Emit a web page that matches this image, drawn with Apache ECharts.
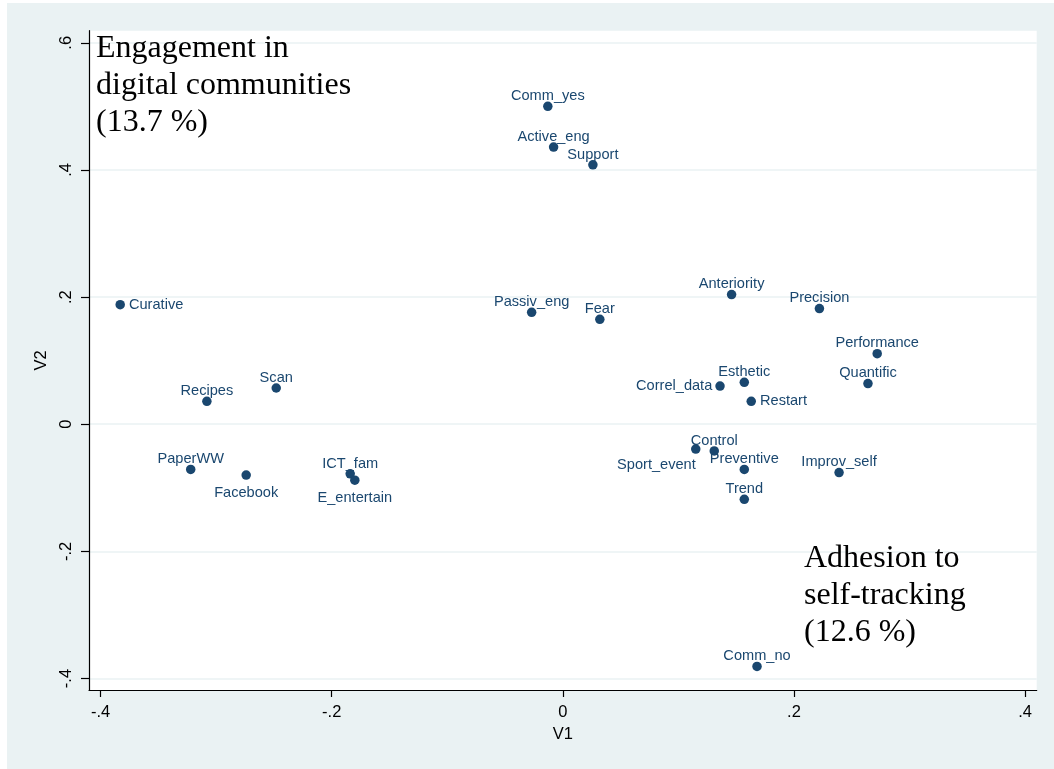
<!DOCTYPE html>
<html>
<head>
<meta charset="utf-8">
<script src="https://cdn.jsdelivr.net/npm/echarts@6/dist/echarts.min.js"></script>
<style>
html,body{margin:0;padding:0;background:#ffffff;}
#bg{position:absolute;left:7px;top:3px;width:1047px;height:766px;background:#eaf2f3;}
#chart{position:absolute;left:0;top:0;width:1054px;height:769px;}
</style>
</head>
<body>
<div id="bg"></div>
<div id="chart"></div>
<script>
// ---- Data ----
const names = ['Curative','Recipes','Scan','PaperWW','Facebook','ICT_fam','E_entertain',
  'Comm_yes','Active_eng','Support','Passiv_eng','Fear','Anteriority','Precision',
  'Performance','Quantific','Esthetic','Correl_data','Restart','Sport_event','Control',
  'Preventive','Improv_self','Trend','Comm_no'];
const v1 = [-0.383,-0.308,-0.248,-0.322,-0.274,-0.184,-0.180,
  -0.013,-0.008,0.026,-0.027,0.032,0.146,0.222,
  0.272,0.264,0.157,0.136,0.163,0.115,0.131,
  0.157,0.239,0.157,0.168];
const v2 = [0.188,0.036,0.057,-0.071,-0.080,-0.078,-0.088,
  0.500,0.436,0.408,0.176,0.165,0.204,0.182,
  0.111,0.064,0.066,0.060,0.036,-0.039,-0.042,
  -0.071,-0.076,-0.118,-0.381];
const xTicks = [-0.4,-0.2,0,0.2,0.4];
const yTicks = [-0.4,-0.2,0,0.2,0.4,0.6];
const annotationTop = ['Engagement in','digital communities','(13.7 %)'];
const annotationBottom = ['Adhesion to','self-tracking','(12.6 %)'];

// label placement (style only)
const labelStyle = {
  Curative:{position:'right',distance:4},
  Correl_data:{position:'left',distance:3},
  Restart:{position:'right',distance:4},
  Facebook:{position:'bottom',distance:6},
  E_entertain:{position:'bottom',distance:6},
  Sport_event:{position:'bottom',distance:4,align:'right'}
};

const NAVY = '#1a476f';
const fmt = v => {
  if (Math.abs(v) < 1e-9) return '0';
  const s = Math.abs(v).toFixed(1).replace(/^0/, '');
  return (v < 0 ? '-' : '') + s;
};

const data = names.map((n, i) => {
  const ls = labelStyle[n] || {position:'top', distance:-2};
  return { name: n, value: [v1[i], v2[i]], label: Object.assign({}, ls) };
});

const chart = echarts.init(document.getElementById('chart'));
const axisFont = {fontFamily:'Liberation Sans', fontSize:16.5, color:'#000'};

chart.setOption({
  backgroundColor: 'transparent',
  animation: false,
  grid: {left:89, right:17.3, top:30.7, bottom:79, show:true, backgroundColor:'#ffffff', borderWidth:0},
  xAxis: {
    type:'value', min:-0.41, max:0.41,
    name:'V1', nameLocation:'middle', nameGap:32,
    nameTextStyle: axisFont,
    axisLine:{show:true, onZero:false, lineStyle:{color:'#000', width:1.2}},
    axisTick:{show:true, length:7, customValues:xTicks, lineStyle:{color:'#000', width:1.2}},
    axisLabel:{customValues:xTicks, formatter:fmt, margin:14, ...axisFont},
    splitLine:{show:false}
  },
  yAxis: {
    type:'value', min:-0.418, max:0.619,
    name:'V2', nameLocation:'middle', nameGap:34, nameRotate:90,
    nameTextStyle: axisFont,
    axisLine:{show:true, onZero:false, lineStyle:{color:'#000', width:1.2}},
    axisTick:{show:true, length:8, customValues:yTicks, lineStyle:{color:'#000', width:1.2}},
    axisLabel:{customValues:yTicks, formatter:fmt, rotate:90, margin:14, ...axisFont},
    splitLine:{show:true, lineStyle:{color:'#eaf2f3', width:1.6}}
  },
  graphic: [
    {type:'text', left:96, top:30, z:100,
     style:{text:annotationTop.join('\n'), font:'32px "Liberation Serif"', lineHeight:37, fill:'#000'}},
    {type:'text', left:804, top:540, z:100,
     style:{text:annotationBottom.join('\n'), font:'32px "Liberation Serif"', lineHeight:37, fill:'#000'}}
  ],
  series: [{
    type:'scatter',
    symbol:'circle',
    symbolSize:9.5,
    itemStyle:{color:NAVY, opacity:1},
    label:{show:true, formatter:'{b}', color:NAVY, fontFamily:'Liberation Sans', fontSize:14.6},
    emphasis:{disabled:true},
    data:data
  }]
});
</script>
</body>
</html>
